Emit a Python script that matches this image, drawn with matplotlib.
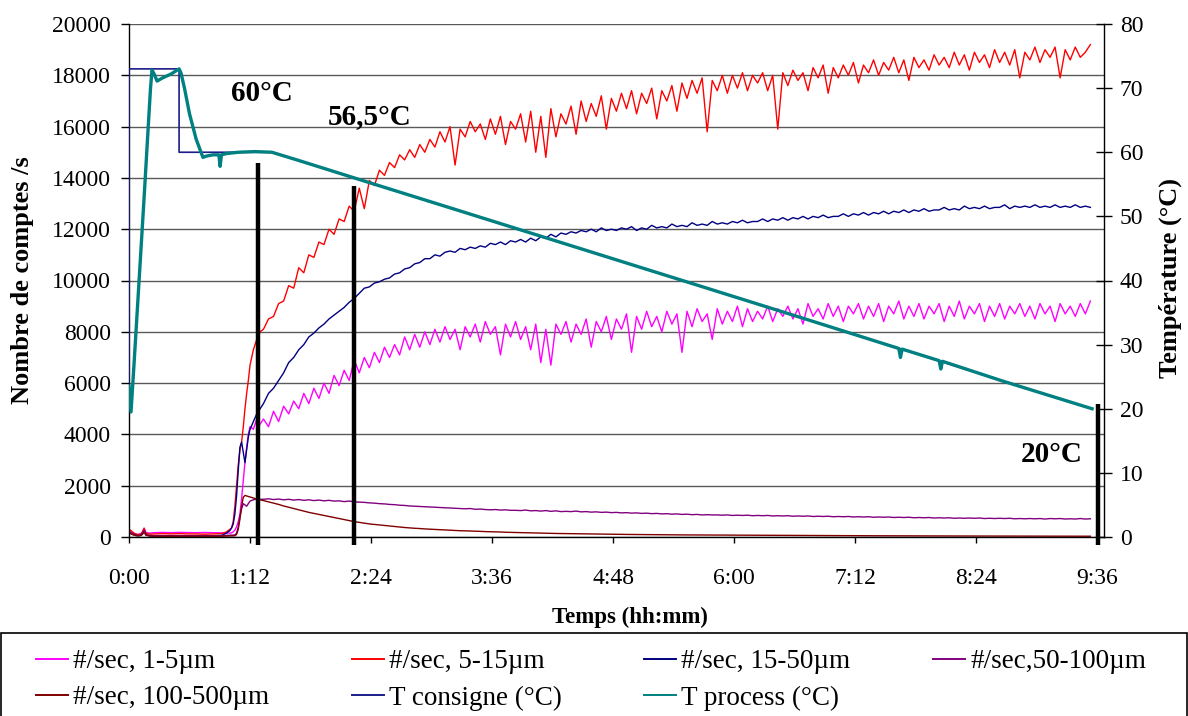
import numpy as np
import matplotlib
matplotlib.use('Agg')
import matplotlib.pyplot as plt
from matplotlib.ticker import FixedLocator, FuncFormatter
from matplotlib.patches import Rectangle

plt.rcParams['font.family'] = ['Liberation Serif', 'DejaVu Serif']

# ---------------- data (time in minutes) ----------------
t_early = [0, 1, 2, 3, 4, 5, 6, 7, 8, 9, 10, 12, 15, 20, 25, 30, 35, 40, 45, 50, 55, 58,
           60, 61, 62, 63, 64, 65, 66, 67, 68, 69, 70, 71, 72, 74, 76, 78]
late_start, late_step = 80, 3

red_early = [300, 260, 200, 150, 120, 100, 100, 110, 200, 330, 150, 110, 120, 130, 120, 130, 120, 120, 110, 120, 130, 200,
             300, 350, 600, 1200, 2000, 2800, 3400, 3700, 4300, 5000, 5600, 6100, 6700, 7300, 7700, 8000]
red_late = [8100, 8500, 8600, 9100, 9200, 9800, 9700, 10500, 10300, 11000,
            10900, 11500, 11400, 12000, 11800, 12400, 12300, 12900, 12700, 13600,
            12800, 13900, 13700, 14300, 14100, 14600, 14400, 14900, 14700, 15100,
            14800, 15300, 15000, 15500, 15200, 15800, 15400, 16000, 14500, 15900,
            15600, 16200, 15800, 16100, 15500, 16300, 15700, 16400, 15300, 16200,
            15900, 16500, 15400, 16600, 15000, 16400, 14800, 16700, 15600, 16500,
            16100, 16800, 15700, 17000, 16200, 16900, 16400, 17200, 15900, 17100,
            16600, 17300, 16700, 17400, 16500, 17300, 16900, 17500, 16300, 17400,
            17000, 17600, 16600, 17700, 17100, 17800, 17300, 17900, 15800, 17800,
            17400, 18000, 17300, 18000, 17500, 18100, 17400, 18000, 17700, 18100,
            17400, 18000, 15900, 18100, 17600, 18200, 17800, 18100, 17400, 18300,
            17900, 18400, 17300, 18300, 17900, 18400, 18000, 18500, 17700, 18400,
            18100, 18600, 18000, 18500, 18200, 18700, 18100, 18600, 17800, 18700,
            18300, 18600, 18200, 18800, 18400, 18700, 18300, 18900, 18400, 18800,
            18200, 18900, 18500, 18800, 18300, 19000, 18500, 18900, 18400, 19000,
            17900, 18900, 18600, 19100, 18500, 19000, 18700, 19100, 17900, 19000,
            18600, 19100, 18700, 18900, 19200]

magenta_early = [250, 220, 180, 140, 110, 100, 110, 120, 200, 350, 180, 150, 170, 180, 170, 180, 175, 170, 175, 170, 160, 150,
                 150, 160, 200, 270, 400, 600, 900, 1500, 2200, 2900, 3500, 4000, 4300, 4200, 4600, 4400]
magenta_late = [4600, 4300, 4900, 4500, 5100, 4800, 5300, 5000, 5600, 5200,
                5800, 5400, 6000, 5600, 6300, 5900, 6500, 6100, 6900, 6400,
                7000, 6600, 7200, 6800, 7400, 7000, 7500, 7100, 7800, 7300,
                7900, 7400, 8000, 7500, 8100, 7600, 8200, 7700, 8100, 7300,
                8200, 7800, 8300, 7600, 8400, 7900, 8200, 7100, 8300, 7800,
                8400, 7700, 8200, 7300, 8300, 6800, 8100, 6700, 8300, 7900,
                8400, 7600, 8300, 7900, 8500, 7400, 8400, 8000, 8600, 7700,
                8500, 8100, 8700, 7200, 8600, 8100, 8800, 8200, 8600, 8000,
                8800, 8300, 8700, 7200, 8800, 8200, 8900, 8400, 8700, 7700,
                8900, 8300, 8800, 8400, 9000, 8200, 8900, 8400, 8800, 8500,
                9000, 8400, 8900, 8600, 9000, 8500, 8900, 8300, 9100, 8600,
                8900, 8500, 9100, 8600, 9000, 8400, 9000, 8700, 9100, 8500,
                9000, 8600, 9100, 8400, 9000, 8700, 9200, 8500, 9000, 8600,
                9100, 8500, 9000, 8700, 9100, 8400, 9000, 8600, 9200, 8500,
                9000, 8700, 9100, 8400, 9000, 8600, 9100, 8500, 9000, 8700,
                9100, 8600, 9000, 8500, 9100, 8700, 9000, 8400, 9100, 8700,
                9000, 8600, 9100, 8700, 9200]

navy_early = [200, 150, 100, 80, 60, 50, 50, 60, 120, 250, 80, 50, 40, 40, 50, 45, 40, 50, 45, 50, 60, 150,
              250, 350, 500, 900, 1600, 2600, 3500, 3700, 3300, 2900, 3400, 3900, 4200, 4500, 4800, 5000]
navy_late = [5200, 5600, 5800, 6100, 6400, 6800, 7000, 7300, 7500, 7800,
             7950, 8150, 8300, 8500, 8650, 8800, 8950, 9150, 9300, 9500,
             9700, 9750, 9900, 9950, 10050, 10100, 10250, 10300, 10450, 10500,
             10650, 10700, 10850, 10850, 11000, 10950, 11100, 11150, 11100, 11250,
             11200, 11300, 11250, 11350, 11300, 11450, 11400, 11500, 11400, 11550,
             11500, 11600, 11500, 11650, 11550, 11700, 11650, 11800, 11700, 11850,
             11800, 11900, 11850, 11950, 11900, 12000, 11900, 12050, 11950, 12000,
             11950, 12050, 12000, 12100, 11950, 12050, 12000, 12150, 12050, 12100,
             12050, 12200, 12100, 12150, 12100, 12250, 12150, 12200, 12150, 12300,
             12200, 12250, 12200, 12300, 12250, 12350, 12250, 12300, 12300, 12400,
             12300, 12400, 12350, 12450, 12350, 12450, 12400, 12500, 12400, 12500,
             12450, 12550, 12450, 12500, 12500, 12600, 12500, 12600, 12550, 12650,
             12550, 12650, 12600, 12700, 12600, 12700, 12650, 12750, 12650, 12750,
             12700, 12800, 12700, 12750, 12750, 12850, 12750, 12800, 12750, 12900,
             12800, 12850, 12800, 12900, 12800, 12850, 12850, 12950, 12800, 12900,
             12850, 12900, 12850, 12950, 12850, 12900, 12850, 12950, 12850, 12900,
             12850, 12950, 12850, 12900, 12850]

purple_early = [200, 170, 130, 100, 80, 70, 70, 80, 150, 250, 100, 60, 50, 50, 50, 50, 50, 50, 50, 50, 50, 60,
                70, 70, 75, 80, 150, 400, 800, 1100, 1300, 1250, 1200, 1300, 1400, 1450, 1480, 1470]
purple_late = [1470, 1490, 1460, 1480, 1450, 1470, 1440, 1460, 1430, 1450,
               1420, 1440, 1410, 1430, 1400, 1410, 1380, 1400, 1370, 1360,
               1350, 1330, 1320, 1300, 1290, 1270, 1260, 1240, 1230, 1210,
               1200, 1190, 1180, 1170, 1160, 1150, 1140, 1130, 1120, 1110,
               1100, 1110, 1080, 1090, 1070, 1060, 1070, 1050, 1060, 1040,
               1040, 1030, 1050, 1020, 1030, 1010, 1030, 1000, 1020, 990,
               1000, 990, 1010, 980, 990, 970, 980, 960, 970, 950,
               960, 940, 950, 930, 940, 920, 930, 910, 920, 900,
               910, 890, 900, 880, 890, 870, 880, 860, 870, 860,
               860, 850, 860, 840, 850, 840, 850, 830, 840, 830,
               840, 820, 830, 820, 830, 810, 820, 810, 820, 800,
               810, 800, 810, 790, 800, 790, 800, 780, 790, 780,
               790, 770, 780, 770, 780, 760, 770, 760, 770, 750,
               760, 750, 760, 740, 750, 740, 750, 730, 740, 730,
               740, 730, 740, 720, 730, 720, 730, 720, 730, 710,
               720, 710, 720, 710, 720, 700, 720, 710, 720, 700,
               710, 700, 720, 700, 710]

brown_early = [150, 130, 100, 80, 60, 50, 50, 60, 100, 200, 80, 40, 30, 30, 30, 30, 30, 30, 30, 30, 30, 35,
               40, 40, 45, 50, 100, 300, 700, 1200, 1550, 1620, 1600, 1580, 1560, 1520, 1480, 1450]
brown_late = [1420, 1370, 1320, 1270, 1210, 1160, 1110, 1060, 1010, 960,
              920, 880, 840, 800, 760, 720, 680, 640, 600, 570,
              540, 510, 490, 470, 450, 430, 410, 390, 370, 355,
              340, 330, 315, 305, 295, 285, 275, 265, 255, 245,
              240, 235, 225, 220, 210, 205, 200, 195, 185, 180,
              175, 170, 165, 160, 155, 150, 145, 140, 138, 135,
              130, 128, 125, 122, 120, 117, 115, 112, 110, 107,
              105, 102, 100, 98, 96, 95, 93, 92, 90, 88,
              87, 85, 84, 82, 81, 80, 78, 77, 76, 75,
              74, 72, 71, 70, 69, 68, 67, 66, 65, 64,
              63, 62, 61, 61, 60, 59, 58, 58, 57, 56,
              55, 55, 54, 53, 53, 52, 51, 51, 50, 49,
              49, 48, 48, 47, 46, 46, 45, 45, 44, 44,
              43, 43, 42, 42, 41, 41, 40, 40, 39, 39,
              38, 38, 38, 37, 37, 36, 36, 36, 35, 35,
              35, 34, 34, 34, 33, 33, 33, 32, 32, 32,
              31, 31, 31, 30, 30]

# temperatures (right axis, °C)
tproc_t = [0, 1.2, 3, 6, 9, 11, 12.8, 13.7, 15, 16.7, 20, 25, 29.8, 31, 33, 36, 40, 44, 46, 50, 53.5, 54.2, 55,
           58, 65, 75, 85, 100, 134, 200, 300, 400, 458, 459, 460, 482, 483, 484, 520, 573]
tproc_v = [23.5, 19.5, 27, 40, 53, 62, 70, 72.8, 72.2, 71.1, 71.6, 72.2, 73.0, 72.3, 70, 66, 62, 59.2, 59.4, 59.6,
           59.6, 57.8, 59.6, 59.8, 60.0, 60.1, 60.0, 58.8, 56.0, 50.6, 42.4, 34.2, 29.4, 28.0, 29.3, 27.5, 26.2, 27.4,
           24.3, 20.0]
tcons_t = [0, 0, 29.8, 29.8, 85, 573]
tcons_v = [20, 73, 73, 60, 60, 20]

# marker lines and annotations
mark_t = [77, 134, 576.6]
mark_top = [14600, 13700, 5200]
annot_text = ['60°C', '56,5°C', '20°C']
annot_t = [79, 143, 549]
annot_y = [17300, 16350, 3200]

labels = ['#/sec, 1-5µm', '#/sec, 5-15µm', '#/sec, 15-50µm', '#/sec,50-100µm',
          '#/sec, 100-500µm', 'T consigne (°C)', 'T process (°C)']
colors = ['#ff00ff', '#ff0000', '#000080', '#800080', '#800000', '#000080', '#008080']

xticks = [0, 72, 144, 216, 288, 360, 432, 504, 576]

# ---------------- figure ----------------
fig = plt.figure(figsize=(11.88, 7.16), dpi=100)
ax = fig.add_axes([129/1188, 1 - 537/716, (1104-129)/1188, (537-24)/716])
ax2 = ax.twinx()

n_late = len(red_late)
t_late = late_start + late_step * np.arange(n_late)
t_all = np.concatenate([np.array(t_early, float), t_late])

series = [magenta_early + magenta_late, red_early + red_late, navy_early + navy_late,
          purple_early + purple_late, brown_early + brown_late]
handles = []
for vals, c, lab in zip(series, colors[:5], labels[:5]):
    h, = ax.plot(t_all, vals, color=c, lw=1.0, label=lab)
    handles.append(h)

hc, = ax2.plot(tcons_t, tcons_v, color='#1c1c8a', lw=1.2, label=labels[5])
hp, = ax2.plot(tproc_t, tproc_v, color='#008080', lw=2.4, label=labels[6])
handles += [hc, hp]

ax.set_xlim(0, 580.1)
ax.set_ylim(0, 20000)
ax2.set_ylim(0, 80)
ax.set_yticks(np.arange(0, 20001, 2000))
ax2.set_yticks(np.arange(0, 81, 10))
ax.xaxis.set_major_locator(FixedLocator(xticks))
ax.xaxis.set_major_formatter(FuncFormatter(lambda v, p: f"{int(v)//60}:{int(v)%60:02d}"))

ax.grid(axis='y', color='#5a5a5a', lw=1.0)
ax.set_axisbelow(True)
ax.spines['top'].set_visible(False)
ax2.spines['top'].set_visible(False)
ax2.spines['left'].set_visible(False)
ax2.spines['bottom'].set_visible(False)
ax.spines['right'].set_visible(False)
for sp in [ax.spines['left'], ax.spines['bottom'], ax2.spines['right']]:
    sp.set_color('black')
    sp.set_linewidth(1.0)

ax.tick_params(axis='y', direction='out', length=6, width=1, labelsize=17, pad=7)
ax.tick_params(axis='x', direction='out', length=4, width=1, labelsize=17, pad=18)
ax2.tick_params(axis='y', direction='inout', length=11, width=1, labelsize=17, pad=6)

ax.set_ylabel('Nombre de comptes /s', fontsize=19, fontweight='bold')
ax.yaxis.label.set_va('center')
ax.yaxis.set_label_coords(-0.1097, 0.5)
ax.set_xlabel('Temps (hh:mm)', fontsize=16.5, fontweight='bold')
ax.xaxis.label.set_va('center')
ax.xaxis.set_label_coords(0.514, -0.156)
ax2.set_ylabel('Température (°C)', fontsize=19, fontweight='bold', rotation=90)
ax2.yaxis.label.set_va('center')
ax2.yaxis.set_label_coords(1.0677, 0.505)

# black vertical marker lines
for tm, top in zip(mark_t, mark_top):
    ax.plot([tm, tm], [-310, top], color='black', lw=3.2, clip_on=False, zorder=5,
            solid_capstyle='butt')
ax2.set_zorder(ax.get_zorder() + 1)
ax2.patch.set_visible(False)
for txt, tx, ty in zip(annot_text, annot_t, annot_y):
    ax.text(tx, ty, txt, fontsize=21, fontweight='bold', ha='center', va='center', zorder=6)

# legend with full-width frame at bottom (row-wise order)
order = [0, 4, 1, 5, 2, 6, 3]
fig.patches.append(Rectangle((0.0005, -0.01), 0.999, 0.116 + 0.01, transform=fig.transFigure,
                             fill=False, edgecolor='black', lw=1.2))
leg = fig.legend(handles=[handles[i] for i in order], labels=[labels[i] for i in order],
                 loc='center', ncol=4, mode='expand',
                 bbox_to_anchor=(36/1188, 0.0, (1146-36)/1188, 72/716), frameon=False,
                 fontsize=19.5, handlelength=1.18, handletextpad=0.19, borderpad=0.0,
                 borderaxespad=0.0, labelspacing=0.41)
for lh in leg.get_lines():
    lh.set_linewidth(1.4)

fig.savefig('out.png', dpi=100)
